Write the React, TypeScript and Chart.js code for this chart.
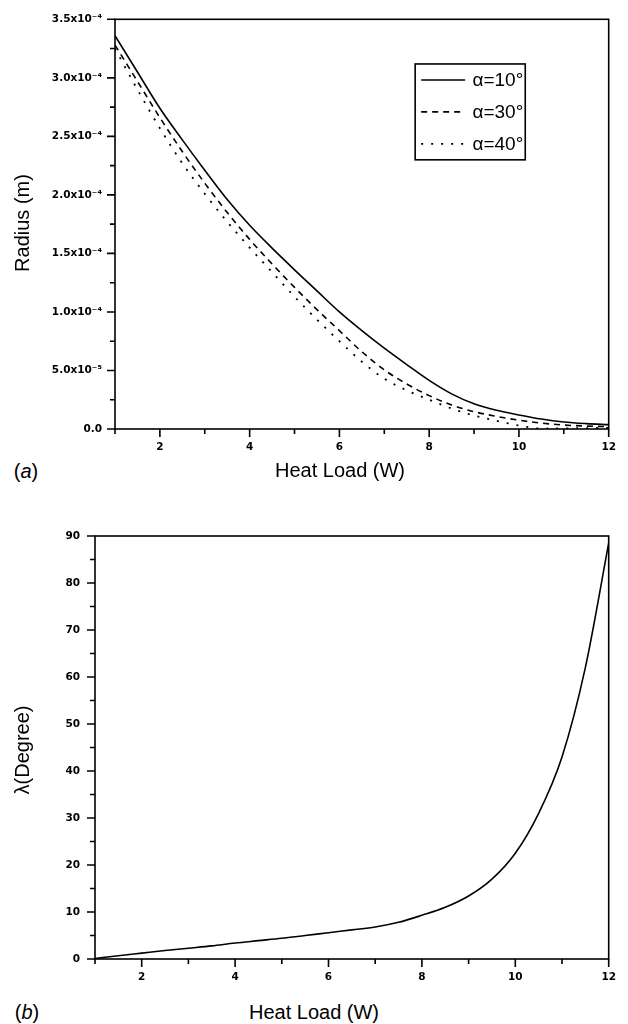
import React, { useEffect, useRef } from "react";
import { Chart, registerables } from "chart.js";

Chart.register(...registerables);

// ---------- data ----------
const heatLoad = [1, 1.5, 2, 2.5, 3, 3.5, 4, 4.5, 5, 5.5, 6, 6.5, 7, 7.5, 8, 8.5, 9, 9.5, 10, 10.5, 11, 11.5, 12];

const radiusAlpha10 = [3.36e-4, 3.05e-4, 2.74e-4, 2.47e-4, 2.21e-4, 1.96e-4, 1.74e-4, 1.545e-4, 1.36e-4, 1.18e-4, 1.0e-4, 0.84e-4, 0.69e-4, 0.55e-4, 0.415e-4, 0.3e-4, 0.215e-4, 0.16e-4, 0.12e-4, 0.085e-4, 0.06e-4, 0.046e-4, 0.037e-4];
const radiusAlpha30 = [3.28e-4, 2.97e-4, 2.66e-4, 2.37e-4, 2.1e-4, 1.85e-4, 1.62e-4, 1.41e-4, 1.21e-4, 1.02e-4, 0.84e-4, 0.66e-4, 0.505e-4, 0.385e-4, 0.285e-4, 0.205e-4, 0.148e-4, 0.108e-4, 0.075e-4, 0.05e-4, 0.034e-4, 0.025e-4, 0.02e-4];
const radiusAlpha40 = [3.25e-4, 2.9e-4, 2.57e-4, 2.27e-4, 2.01e-4, 1.77e-4, 1.55e-4, 1.34e-4, 1.13e-4, 0.935e-4, 0.75e-4, 0.575e-4, 0.43e-4, 0.33e-4, 0.25e-4, 0.175e-4, 0.115e-4, 0.07e-4, 0.03e-4, 0.004e-4, 0.005e-4, 0.008e-4, 0.01e-4];

const lambdaDegree = [0.1, 0.7, 1.25, 1.8, 2.3, 2.8, 3.4, 3.9, 4.4, 5.0, 5.6, 6.2, 6.8, 7.8, 9.3, 11.0, 13.4, 17.0, 22.5, 31, 43, 62, 88.5];

const seriesLabels = ["α=10°", "α=30°", "α=40°"];

const heatMajorTicks = [2, 4, 6, 8, 10, 12];
const heatMinorTicks = [1, 3, 5, 7, 9, 11];

const radiusMajorTicks = [0, 0.5e-4, 1.0e-4, 1.5e-4, 2.0e-4, 2.5e-4, 3.0e-4, 3.5e-4];
const radiusTickLabels = ["0.0", "5.0x10⁻⁵", "1.0x10⁻⁴", "1.5x10⁻⁴", "2.0x10⁻⁴", "2.5x10⁻⁴", "3.0x10⁻⁴", "3.5x10⁻⁴"];
const radiusMinorTicks = [0.25e-4, 0.75e-4, 1.25e-4, 1.75e-4, 2.25e-4, 2.75e-4, 3.25e-4];

const lambdaMajorTicks = [0, 10, 20, 30, 40, 50, 60, 70, 80, 90];
const lambdaMinorTicks = [5, 15, 25, 35, 45, 55, 65, 75, 85];

// ---------- plugins ----------
const frameAndTicks = {
  id: "frameAndTicks",
  afterDatasetsDraw(chart: any, _args: any, opts: any) {
    const { ctx, chartArea: a, scales } = chart;
    const xs = scales.x;
    const ys = scales.y;
    ctx.save();
    ctx.strokeStyle = "#000";
    ctx.lineWidth = 1.6;
    ctx.setLineDash([]);
    ctx.strokeRect(a.left, a.top, a.right - a.left, a.bottom - a.top);
    ctx.beginPath();
    const major = opts.major || 8;
    const minor = opts.minor || 5;
    xs.ticks.forEach((t: any) => {
      const px = xs.getPixelForValue(t.value);
      ctx.moveTo(px, a.bottom);
      ctx.lineTo(px, a.bottom + major);
    });
    (opts.xMinor || []).forEach((v: number) => {
      const px = xs.getPixelForValue(v);
      ctx.moveTo(px, a.bottom);
      ctx.lineTo(px, a.bottom + minor);
    });
    ys.ticks.forEach((t: any) => {
      const py = ys.getPixelForValue(t.value);
      ctx.moveTo(a.left, py);
      ctx.lineTo(a.left - major, py);
    });
    (opts.yMinor || []).forEach((v: number) => {
      const py = ys.getPixelForValue(v);
      ctx.moveTo(a.left, py);
      ctx.lineTo(a.left - minor, py);
    });
    ctx.stroke();
    ctx.restore();
  },
};

const boxLegend = {
  id: "boxLegend",
  afterDatasetsDraw(chart: any, _args: any, opts: any) {
    if (!opts || !opts.show) return;
    const { ctx, chartArea: a } = chart;
    const w = a.right - a.left;
    const h = a.bottom - a.top;
    const left = a.left + w * opts.left;
    const right = a.left + w * opts.right;
    const top = a.top + h * opts.top;
    const bottom = a.top + h * opts.bottom;
    ctx.save();
    ctx.fillStyle = "#fff";
    ctx.fillRect(left, top, right - left, bottom - top);
    ctx.strokeStyle = "#000";
    ctx.lineWidth = 1.6;
    ctx.setLineDash([]);
    ctx.strokeRect(left, top, right - left, bottom - top);
    const datasets = chart.data.datasets;
    const rowH = (bottom - top) / datasets.length;
    datasets.forEach((ds: any, i: number) => {
      const cy = top + rowH * (i + 0.5);
      ctx.beginPath();
      ctx.setLineDash(ds.borderDash || []);
      ctx.lineWidth = ds.borderWidth;
      ctx.strokeStyle = ds.borderColor;
      ctx.moveTo(left + 6, cy);
      ctx.lineTo(left + 50, cy);
      ctx.stroke();
      ctx.setLineDash([]);
      ctx.fillStyle = "#000";
      ctx.font = opts.font;
      ctx.textAlign = "right";
      ctx.textBaseline = "middle";
      ctx.fillText(ds.label, right - 2, cy + 1);
    });
    ctx.restore();
  },
};

const tickFont = { family: "'DejaVu Sans', 'Liberation Sans', Arial, sans-serif", size: 10.5, weight: "bold" as const };

function makeDataset(label: string, values: number[], dash: number[], width: number) {
  return {
    label,
    data: heatLoad.map((x, i) => ({ x, y: values[i] })),
    borderColor: "#000",
    borderWidth: width,
    borderDash: dash,
    pointRadius: 0,
    fill: false,
    cubicInterpolationMode: "monotone" as const,
    borderCapStyle: "butt" as const,
  };
}

function xScale() {
  return {
    type: "linear" as const,
    min: 1,
    max: 12,
    afterBuildTicks: (s: any) => {
      s.ticks = heatMajorTicks.map((v) => ({ value: v }));
    },
    afterFit: (s: any) => {
      s.height = 31;
    },
    grid: { display: false, drawTicks: false },
    border: { display: false },
    ticks: { font: tickFont, color: "#000", padding: 12, maxRotation: 0, autoSkip: false },
  };
}

function ChartA() {
  const ref = useRef<HTMLCanvasElement | null>(null);
  useEffect(() => {
    if (!ref.current) return;
    const chart = new Chart(ref.current, {
      type: "line",
      data: {
        datasets: [
          makeDataset(seriesLabels[0], radiusAlpha10, [], 1.6),
          makeDataset(seriesLabels[1], radiusAlpha30, [6, 5], 1.6),
          makeDataset(seriesLabels[2], radiusAlpha40, [2, 8], 1.8),
        ],
      },
      options: {
        animation: false,
        responsive: false,
        devicePixelRatio: 1,
        layout: { padding: { top: 18, right: 10, left: 0, bottom: 0 } },
        scales: {
          x: xScale(),
          y: {
            type: "linear",
            min: 0,
            max: 3.5e-4,
            afterBuildTicks: (s: any) => {
              s.ticks = radiusMajorTicks.map((v) => ({ value: v }));
            },
            afterFit: (s: any) => {
              s.width = 115;
            },
            grid: { display: false, drawTicks: false },
            border: { display: false },
            ticks: {
              font: tickFont,
              color: "#000",
              padding: 13,
              callback: (_v: any, i: number) => radiusTickLabels[i],
            },
          },
        },
        plugins: {
          legend: { display: false },
          tooltip: { enabled: false },
          frameAndTicks: { xMinor: heatMinorTicks, yMinor: radiusMinorTicks, major: 8, minor: 5 },
          boxLegend: { show: true, left: 0.608, right: 0.831, top: 0.109, bottom: 0.343, font: "19px 'Liberation Sans', Arial, sans-serif" },
        } as any,
      },
      plugins: [frameAndTicks, boxLegend],
    });
    return () => chart.destroy();
  }, []);
  return <canvas ref={ref} width={628} height={460} style={{ position: "absolute", left: 0, top: 0, width: 628, height: 460 }} />;
}

function ChartB() {
  const ref = useRef<HTMLCanvasElement | null>(null);
  useEffect(() => {
    if (!ref.current) return;
    const chart = new Chart(ref.current, {
      type: "line",
      data: {
        datasets: [makeDataset("λ", lambdaDegree, [], 1.6)],
      },
      options: {
        animation: false,
        responsive: false,
        devicePixelRatio: 1,
        layout: { padding: { top: 36, right: 10, left: 0, bottom: 0 } },
        scales: {
          x: xScale(),
          y: {
            type: "linear",
            min: 0,
            max: 90,
            afterBuildTicks: (s: any) => {
              s.ticks = lambdaMajorTicks.map((v) => ({ value: v }));
            },
            afterFit: (s: any) => {
              s.width = 95;
            },
            grid: { display: false, drawTicks: false },
            border: { display: false },
            ticks: { font: tickFont, color: "#000", padding: 15 },
          },
        },
        plugins: {
          legend: { display: false },
          tooltip: { enabled: false },
          frameAndTicks: { xMinor: heatMinorTicks, yMinor: lambdaMinorTicks, major: 8, minor: 5 },
        } as any,
      },
      plugins: [frameAndTicks],
    });
    return () => chart.destroy();
  }, []);
  return <canvas ref={ref} width={628} height={490} style={{ position: "absolute", left: 0, top: 500, width: 628, height: 490 }} />;
}

const titleFont = "'Liberation Sans', Arial, sans-serif";

function Label(props: { x: number; y: number; rotate?: boolean; children: React.ReactNode }) {
  return (
    <div
      style={{
        position: "absolute",
        left: props.x,
        top: props.y,
        transform: `translate(-50%, -50%)${props.rotate ? " rotate(-90deg)" : ""}`,
        whiteSpace: "nowrap",
        fontFamily: titleFont,
        fontSize: 20,
        lineHeight: "22px",
        color: "#000",
      }}
    >
      {props.children}
    </div>
  );
}

export default function App() {
  return (
    <div style={{ position: "absolute", left: 0, top: 0, width: 628, height: 1024, background: "#fff", overflow: "hidden" }}>
      <ChartA />
      <ChartB />
      <Label x={26} y={471}>
        (<i>a</i>)
      </Label>
      <Label x={340} y={470}>Heat Load (W)</Label>
      <Label x={22} y={223} rotate>
        Radius (m)
      </Label>
      <Label x={27} y={1012}>
        (<i>b</i>)
      </Label>
      <Label x={314} y={1012}>Heat Load (W)</Label>
      <Label x={22} y={750} rotate>
        λ(Degree)
      </Label>
    </div>
  );
}
